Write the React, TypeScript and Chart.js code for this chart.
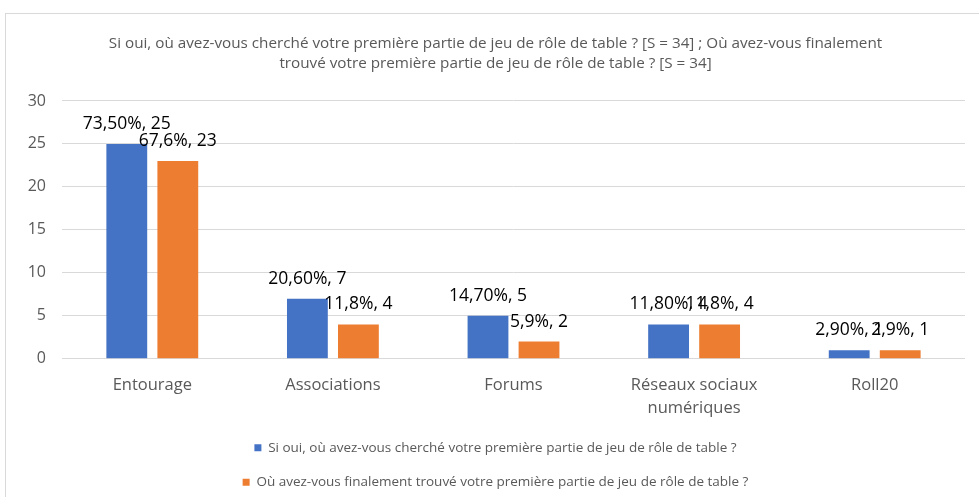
import React, { useEffect, useRef } from "react";
import { Chart, registerables } from "chart.js";

Chart.register(...registerables);

const titleLines = [
  "Si oui, où avez-vous cherché votre première partie de jeu de rôle de table ? [S = 34] ; Où avez-vous finalement",
  "trouvé votre première partie de jeu de rôle de table ? [S = 34]",
];
const categoryLines = [["Entourage"], ["Associations"], ["Forums"], ["Réseaux sociaux", "numériques"], ["Roll20"]];
const seriesNames = [
  "Si oui, où avez-vous cherché votre première partie de jeu de rôle de table ?",
  "Où avez-vous finalement trouvé votre première partie de jeu de rôle de table ?",
];
const searchedValues = [25, 7, 5, 4, 1];
const foundValues = [23, 4, 2, 4, 1];
const searchedPct = ["73,50%", "20,60%", "14,70%", "11,80%", "2,90%"];
const foundPct = ["67,6%", "11,8%", "5,9%", "11,8%", "2,9%"];
const yMin = 0;
const yMax = 30;
const yStep = 5;

const FONT = '"Open Sans", "Noto Sans", sans-serif';

const dataLabelPlugin = {
  id: "dataLabels",
  afterDatasetsDraw(chart: any) {
    const ctx = chart.ctx;
    const pcts = [searchedPct, foundPct];
    ctx.save();
    ctx.font = `17.5px ${FONT}`;
    ctx.fillStyle = "#000000";
    ctx.textAlign = "center";
    ctx.textBaseline = "alphabetic";
    chart.data.datasets.forEach((ds: any, i: number) => {
      const meta = chart.getDatasetMeta(i);
      meta.data.forEach((bar: any, j: number) => {
        const text = `${pcts[i][j]}, ${ds.data[j]}`;
        ctx.fillText(text, bar.x, bar.y - 15);
      });
    });
    ctx.restore();
  },
};

export default function App() {
  const ref = useRef<HTMLCanvasElement | null>(null);
  useEffect(() => {
    if (!ref.current) return;
    const chart = new Chart(ref.current, {
      type: "bar",
      data: {
        labels: categoryLines as any,
        datasets: [
          {
            label: seriesNames[0],
            data: searchedValues,
            backgroundColor: "#4472C4",
            barPercentage: 0.8,
            categoryPercentage: 0.565,
          },
          {
            label: seriesNames[1],
            data: foundValues,
            backgroundColor: "#ED7D31",
            barPercentage: 0.8,
            categoryPercentage: 0.565,
          },
        ],
      },
      options: {
        animation: false,
        responsive: false,
        layout: { padding: { left: 20, right: 14, top: 0, bottom: 0 } },
        scales: {
          x: {
            grid: { display: false, drawTicks: false },
            border: { display: false },
            ticks: {
              color: "#595959",
              font: { family: FONT, size: 16.5, lineHeight: 1.4 },
              padding: 15,
              maxRotation: 0,
              autoSkip: false,
            },
            afterFit(scale: any) {
              scale.height -= 15;
            },
          },
          y: {
            min: yMin,
            max: yMax,
            grid: { color: "#d9d9d9", drawTicks: false, lineWidth: 1 },
            border: { display: false },
            ticks: {
              stepSize: yStep,
              color: "#595959",
              font: { family: FONT, size: 16 },
              padding: 16,
            },
            afterFit(scale: any) {
              scale.width = 36;
            },
          },
        },
        plugins: {
          title: {
            display: true,
            text: titleLines,
            color: "#595959",
            font: { family: FONT, size: 15.25, weight: "normal", lineHeight: 1.31 },
            padding: { top: 20, bottom: 27 },
          },
          legend: {
            position: "bottom",
            labels: {
              boxWidth: 7,
              boxHeight: 7,
              padding: 21,
              color: "#595959",
              font: { family: FONT, size: 13.5 },
            },
          },
          tooltip: { enabled: false },
        },
      },
      plugins: [dataLabelPlugin],
    });
    return () => chart.destroy();
  }, []);

  return (
    <div
      style={{
        position: "fixed",
        left: 0,
        top: 0,
        width: 979,
        height: 497,
        overflow: "hidden",
        background: "#ffffff",
      }}
    >
      <div
        style={{
          position: "absolute",
          left: 5,
          top: 13,
          width: 1000,
          height: 520,
          border: "1px solid #d9d9d9",
          boxSizing: "border-box",
        }}
      />
      <canvas
        ref={ref}
        width={973}
        height={485}
        style={{ position: "absolute", left: 6, top: 14, width: 973, height: 485 }}
      />
    </div>
  );
}
